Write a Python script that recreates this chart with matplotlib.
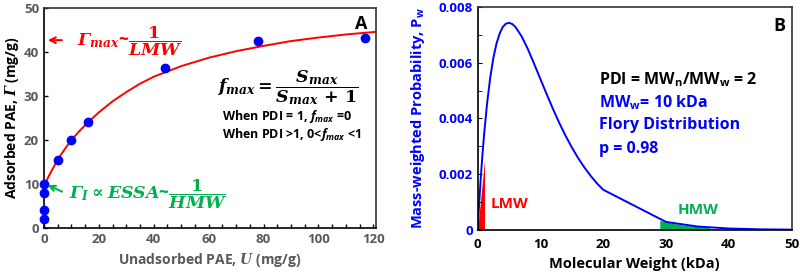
import matplotlib
matplotlib.use('Agg')
import matplotlib.pyplot as plt
from matplotlib.ticker import MultipleLocator

plt.rcParams['font.family'] = ['Open Sans', 'DejaVu Sans']
plt.rcParams['font.weight'] = 'bold'
plt.rcParams['axes.labelweight'] = 'bold'
plt.rcParams['mathtext.fontset'] = 'custom'
plt.rcParams['mathtext.it'] = 'DejaVu Serif:italic:bold'
plt.rcParams['mathtext.rm'] = 'DejaVu Serif:bold'
plt.rcParams['mathtext.bf'] = 'DejaVu Serif:bold'
# italic capital greek (mathtext forces 'it' greek capitals to roman)
plt.rcParams['mathtext.sf'] = 'DejaVu Serif:italic:bold'
# italic sans for the small f_max notes
plt.rcParams['mathtext.cal'] = 'Open Sans:italic:bold'

BLUE = '#0000FF'
RED = '#FF0000'
GREEN = '#00B050'
GREY = '#595959'

# Panel A: adsorption isotherm
u_pts = [0, 0, 0, 0, 5, 10, 16, 44, 78, 117]
g_pts = [2, 4, 8, 10, 15.5, 20, 24, 36.3, 42.5, 43.2]
# fitted curve
u_fit = [0, 2, 4, 6, 8, 10, 13, 16, 20, 25, 30, 35, 40, 50, 60, 70, 80, 90, 100, 110, 121]
g_fit = [9.6, 12.1, 14.4, 16.5, 18.3, 20.0, 22.1, 24.0, 26.3, 28.8, 30.9, 32.8, 34.4,
         36.8, 38.7, 40.2, 41.4, 42.5, 43.3, 44.0, 44.6]

# Panel B: Flory distribution (mass-weighted)
mw = [0, 0.25, 0.5, 0.75, 1, 1.5, 2, 2.5, 3, 3.5, 4, 4.5, 5, 5.5, 6, 7, 8, 9, 10,
      11, 12, 13, 14, 15, 16, 17, 18, 19, 20, 30, 35, 40, 45, 50]
pw = [0, 0.00097, 0.00185, 0.00263, 0.00334, 0.00452, 0.00545, 0.00616, 0.00668,
      0.00704, 0.00728, 0.0074, 0.00743, 0.00739, 0.00729, 0.00695, 0.00649, 0.00596,
      0.00541, 0.00487, 0.00434, 0.00384, 0.00338, 0.00296, 0.00258, 0.00224, 0.00194,
      0.00167, 0.00144, 0.000286, 0.000121, 0.0000505, 0.0000207, 0.0000084]
lmw_mw = [0, 1.1]
lmw_pw = [0, 0.0025]
hmw_mw = [29, 30, 31, 32, 33, 34, 35, 36, 37]
hmw_pw = [0.00034, 0.000286, 0.00024, 0.0002, 0.000168, 0.00014, 0.000121, 0.0001, 0.00008]

fig = plt.figure(figsize=(8, 2.79), dpi=100)
ax1 = fig.add_axes([0.055, 0.183, 0.415, 0.788])
ax2 = fig.add_axes([0.597, 0.176, 0.3926, 0.799])

# ---- panel A
ax1.plot(u_fit, g_fit, color=RED, lw=1.4, zorder=2)
ax1.plot(u_pts, g_pts, 'o', color=BLUE, ms=6, clip_on=False, zorder=3)
ax1.set_xlim(0, 121)
ax1.set_ylim(0, 50)
ax1.xaxis.set_major_locator(MultipleLocator(20))
ax1.xaxis.set_minor_locator(MultipleLocator(5))
ax1.yaxis.set_major_locator(MultipleLocator(10))
ax1.tick_params(direction='in', which='both', length=3, width=1, labelsize=9.5,
                labelcolor=GREY, top=False, right=False)
for s in ax1.spines.values():
    s.set_linewidth(1.2)
ax1.spines['top'].set_color('#333333')
ax1.spines['right'].set_color('#333333')
ax1.set_xlabel(r'Unadsorbed PAE, $U$ (mg/g)', fontsize=10, color=GREY, labelpad=4)
ax1.set_ylabel(r'Adsorbed PAE, $\mathsf{\Gamma}$ (mg/g)', fontsize=10, color='black',
               labelpad=2)

ax1.text(118, 46.3, 'A', fontsize=13, ha='right', va='center')
ax1.annotate('', xy=(0.4, 42.7), xytext=(7.5, 42.7),
             arrowprops=dict(arrowstyle='->', color=RED, lw=1.5))
ax1.text(12, 42.5, r'$\mathsf{\Gamma}_{max}$~$\dfrac{\mathbf{1}}{LMW}$', color=RED,
         fontsize=12.5, va='center', ha='left')
ax1.annotate('', xy=(0.4, 10), xytext=(7.5, 8),
             arrowprops=dict(arrowstyle='->', color=GREEN, lw=1.5))
ax1.text(9, 7.7, r'$\mathsf{\Gamma}_I \propto ESSA$~$\dfrac{\mathbf{1}}{HMW}$', color=GREEN,
         fontsize=12.5, va='center', ha='left')
ax1.text(89, 32, r'$f_{max} = \dfrac{S_{max}}{S_{max}\,+\,\mathbf{1}}$', fontsize=12.5,
         ha='center', va='center')
ax1.text(65, 25.3, r'When PDI = 1, $\mathcal{f_{max}}$ =0', fontsize=9, ha='left',
         va='center')
ax1.text(65, 21.3, r'When PDI >1, 0<$\mathcal{f_{max}}$ <1', fontsize=9, ha='left',
         va='center')

# ---- panel B
ax2.fill_between(lmw_mw, lmw_pw, color=RED, lw=0, zorder=1)
ax2.fill_between(hmw_mw, hmw_pw, color=GREEN, lw=0, zorder=1)
ax2.plot(mw, pw, color=BLUE, lw=1.4, zorder=2)
ax2.set_xlim(0, 50)
ax2.set_ylim(0, 0.008)
ax2.xaxis.set_major_locator(MultipleLocator(10))
ax2.set_yticks([0, 0.002, 0.004, 0.006, 0.008])
ax2.set_yticklabels(['0', '0.002', '0.004', '0.006', '0.008'])
ax2.yaxis.set_minor_locator(MultipleLocator(0.001))
ax2.tick_params(axis='y', direction='in', which='both', length=3, labelsize=9.5,
                labelcolor=BLUE, right=False)
ax2.tick_params(axis='x', length=0, labelsize=9.5, pad=6)
for s in ax2.spines.values():
    s.set_linewidth(1.2)
ax2.spines['top'].set_color('#333333')
ax2.spines['right'].set_color('#333333')
ax2.set_xlabel('Molecular Weight (kDa)', fontsize=10.5, labelpad=4)
ax2.set_ylabel(r'Mass-weighted Probability, P$_\mathregular{w}$', fontsize=10.5,
               color=BLUE, labelpad=8)

ax2.text(49, 0.0073, 'B', fontsize=13, ha='right', va='center')
ax2.text(19.3, 0.0054, r'PDI = MW$_\mathregular{n}$/MW$_\mathregular{w}$ = 2', fontsize=11.5,
         ha='left', va='center')
ax2.text(19.3, 0.00455, r'MW$_\mathregular{w}$= 10 kDa', fontsize=11.5, color=BLUE,
         ha='left', va='center')
ax2.text(19.3, 0.00375, 'Flory Distribution', fontsize=11.5, color=BLUE, ha='left', va='center')
ax2.text(19.3, 0.0029, 'p = 0.98', fontsize=11.5, color=BLUE, ha='left', va='center')
ax2.text(2, 0.00093, 'LMW', fontsize=11, color=RED, ha='left', va='center')
ax2.text(31.9, 0.00072, 'HMW', fontsize=11, color=GREEN, ha='left', va='center')

fig.savefig('out.png', dpi=100)
